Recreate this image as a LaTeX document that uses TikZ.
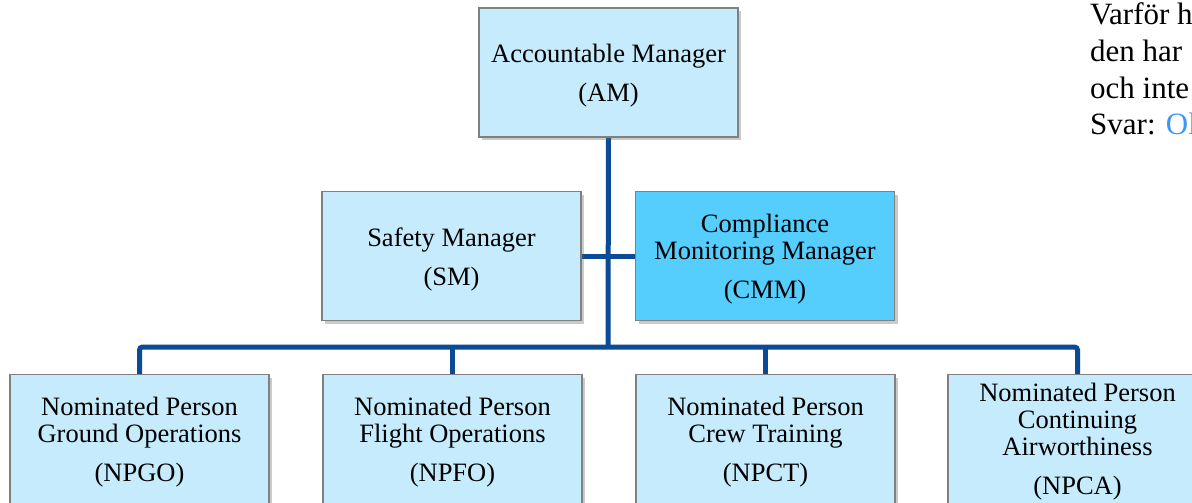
\documentclass[tikz,border=0pt]{standalone}
\usepackage{fontspec}
\setmainfont{Liberation Serif}
\usetikzlibrary{shadows,backgrounds}
\definecolor{boxfill}{RGB}{197,235,252}
\definecolor{cmmfill}{RGB}{85,205,253}
\definecolor{linkblue}{RGB}{60,150,250}
\definecolor{busblue}{RGB}{10,74,150}
\definecolor{boxline}{RGB}{128,128,128}
\begin{document}
\begin{tikzpicture}[x=1pt,y=-1pt,
 orgbox/.style={draw=boxline, line width=1.2pt, fill=boxfill, minimum width=259pt, minimum height=129pt, inner sep=0pt, drop shadow={shadow xshift=3pt, shadow yshift=-3pt, opacity=0.35, fill=black!60}},
 boxtext/.style={inner sep=0pt, align=center, yshift=-3pt, font=\fontsize{26.5}{27}\selectfont},
 busline/.style={draw=busblue, line width=5pt},
 note/.style={anchor=base west, inner sep=0pt, font=\fontsize{31}{33}\selectfont}]
\useasboundingbox (0,0) rectangle (1192,503);
\clip (0,0) rectangle (1192,503);
\node[orgbox, label={[boxtext]center:{Accountable Manager\\[12pt](AM)}}] (AM) at (608.5,72.5) {};
\node[orgbox, label={[boxtext]center:{Safety Manager\\[12pt](SM)}}] (SM) at (451.5,256) {};
\node[orgbox, fill=cmmfill, label={[boxtext]center:{Compliance\\Monitoring Manager\\[12pt](CMM)}}] (CMM) at (765,256) {};
\node[orgbox, label={[boxtext]center:{Nominated Person\\Ground Operations\\[12pt](NPGO)}}] (NPGO) at (139.5,439) {};
\node[orgbox, label={[boxtext]center:{Nominated Person\\Flight Operations\\[12pt](NPFO)}}] (NPFO) at (452.5,439) {};
\node[orgbox, label={[boxtext]center:{Nominated Person\\Crew Training\\[12pt](NPCT)}}] (NPCT) at (765.5,439) {};
\node[orgbox, label={[boxtext]center:{Nominated Person\\Continuing\\Airworthiness\\[12pt](NPCA)}}] (NPCA) at (1077.5,439) {};
\coordinate (bus) at (608,347);
\begin{scope}[on background layer]
\draw[busline] (AM.south) -- (bus);
\draw[busline] (SM.east) -- (CMM.west);
\draw[busline, rounded corners=3pt] (NPGO.north) |- (bus) -| (NPCA.north);
\draw[busline] (NPFO.north) -- (NPFO.north |- bus);
\draw[busline] (NPCT.north) -- (NPCT.north |- bus);
\end{scope}
\node[note] (n1) at (1090,25) {Varför h};
\node[note] (n2) at (1090,62) {den har};
\node[note] (n3) at (1090,99) {och inte};
\node[note] (n4) at (1090,135) {Svar: \textcolor{linkblue}{Ol}};
\end{tikzpicture}
\end{document}
